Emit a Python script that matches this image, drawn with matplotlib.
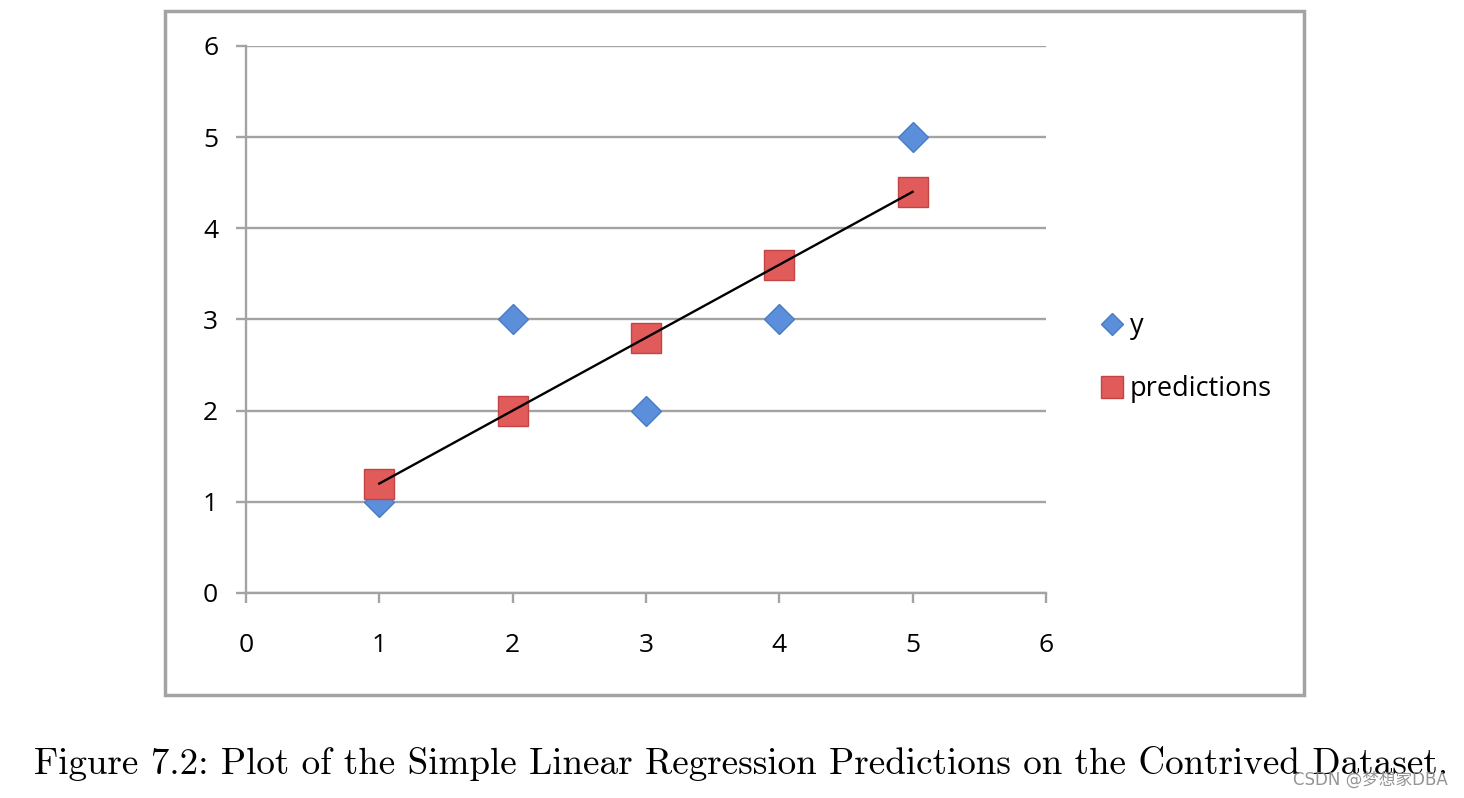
import numpy as np
import matplotlib.pyplot as plt
from matplotlib.patches import Rectangle

# datos
x = np.array([1, 2, 3, 4, 5])
y = np.array([1, 3, 2, 3, 5])
predictions = np.array([1.2, 2.0, 2.8, 3.6, 4.4])
ticks = [0, 1, 2, 3, 4, 5, 6]

caption = "Figure 7.2: Plot of the Simple Linear Regression Predictions on the Contrived Dataset."
watermark = "CSDN @梦想家DBA"

grey = '#a3a3a3'

fig = plt.figure(figsize=(14.64, 7.98), dpi=100)
ax = fig.add_axes([0.168, 0.2569, 0.5464, 0.6855])

# marco exterior
fig.patches.append(Rectangle((0.1127, 0.129), 0.778, 0.857, transform=fig.transFigure,
                             fill=False, edgecolor=grey, linewidth=2.5))

ax.plot(x, y, 'D', markersize=15.5, markerfacecolor='#5b8fdb',
        markeredgecolor='#4a7cc4', markeredgewidth=1, label='y', zorder=3)
ax.plot(x, predictions, 's', markersize=21.5, markerfacecolor='#e25b5b',
        markeredgecolor='#c24444', markeredgewidth=1, label='predictions', zorder=4)
ax.plot(x, predictions, '-', color='black', linewidth=1.7, zorder=5)

ax.set_xlim(0, 6)
ax.set_ylim(0, 6)
ax.set_xticks(ticks)
ax.set_yticks(ticks)
ax.yaxis.grid(True, color=grey, linewidth=1.7)
ax.set_axisbelow(True)

for s in ['top', 'right']:
    ax.spines[s].set_visible(False)
for s in ['left', 'bottom']:
    ax.spines[s].set_color(grey)
    ax.spines[s].set_linewidth(1.7)

tick_font = 'Open Sans'
ax.tick_params(axis='both', direction='out', length=7, width=1.7, color=grey,
               labelsize=19)
ax.tick_params(axis='y', pad=13)
ax.tick_params(axis='x', pad=22)
for lab in ax.get_xticklabels() + ax.get_yticklabels():
    lab.set_fontfamily(tick_font)

leg = ax.legend(loc='center left', bbox_to_anchor=(1.039, 0.43), frameon=False,
                markerscale=0.72, handlelength=0.8, handletextpad=0.25,
                labelspacing=1.3, prop={'family': tick_font, 'size': 19.5})

fig.text(0.506, 0.043, caption, ha='center', va='center', fontsize=26.7,
         fontfamily='cmr10')
fig.text(0.989, 0.023, watermark, ha='right', va='center', fontsize=12,
         color='#8a8a8a', alpha=0.9, family=['DejaVu Sans', 'Noto Sans CJK SC'])

fig.savefig('out.png', dpi=100)
